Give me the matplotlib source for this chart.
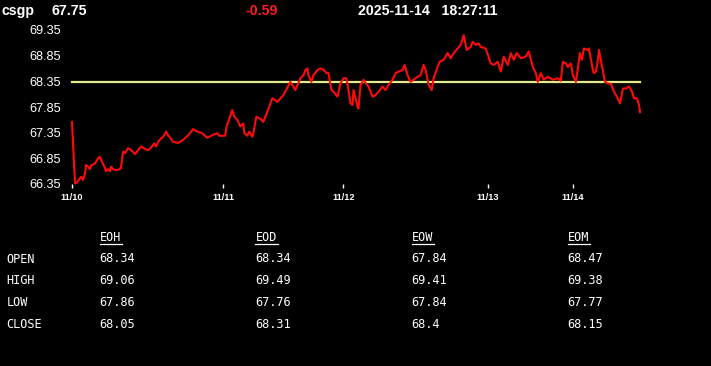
import matplotlib
matplotlib.use("Agg")
import matplotlib.pyplot as plt
from matplotlib.lines import Line2D

# ---------------- data ----------------
symbol = "csgp"
last_price = "67.75"
change = "-0.59"
timestamp = "2025-11-14   18:27:11"
prev_close = 68.34

bar_index = [0, 3, 5, 8, 9, 11, 13, 14, 16, 18, 19, 23, 26, 28, 29, 33, 34, 36, 38, 39,
             41, 44, 48, 49, 51, 53, 56, 59, 63, 66, 69, 73, 76, 79, 82, 84, 86, 89, 91, 94,
             96, 101, 106, 111, 116, 121, 125, 130, 135, 140, 145, 147, 153, 154, 156, 160, 162, 165, 168, 171,
             172, 175, 177, 180, 181, 184, 188, 191, 195, 200, 205, 211, 218, 223, 228, 231, 233, 235, 236, 239,
             241, 245, 248, 251, 254, 256, 259, 261, 265, 268, 271, 274, 276, 278, 280, 281, 285, 286, 288, 291,
             293, 296, 300, 303, 306, 310, 313, 316, 320, 323, 326, 330, 332, 335, 338, 341, 345, 348, 351, 353,
             356, 359, 361, 365, 367, 371, 375, 378, 381, 385, 388, 391, 394, 398, 400, 403, 406, 408, 413, 418,
             421, 425, 428, 431, 435, 438, 441, 444, 448, 453, 456, 460, 463, 465, 468, 471, 475, 480, 485, 488,
             490, 493, 495, 498, 500, 503, 505, 507, 509, 511, 515, 516, 520, 521, 523, 525, 526, 530, 532, 535,
             538, 541, 544, 547, 550, 553, 556, 559, 561, 564, 566, 567]
prices = [67.56, 66.36, 66.38, 66.46, 66.49, 66.43, 66.56, 66.72, 66.69, 66.64, 66.71, 66.75, 66.85, 66.88, 66.82, 66.66, 66.60, 66.64, 66.60, 66.69,
          66.64, 66.62, 66.64, 66.69, 66.98, 66.95, 67.05, 67.01, 66.93, 67.01, 67.08, 67.03, 67.01, 67.06, 67.14, 67.08, 67.17, 67.24, 67.27, 67.37,
          67.30, 67.17, 67.15, 67.21, 67.30, 67.42, 67.37, 67.34, 67.25, 67.30, 67.34, 67.29, 67.29, 67.44, 67.56, 67.79, 67.66, 67.60, 67.47, 67.53,
          67.34, 67.29, 67.37, 67.27, 67.34, 67.66, 67.62, 67.56, 67.76, 68.02, 67.95, 68.08, 68.34, 68.18, 68.41, 68.47, 68.57, 68.60, 68.47, 68.34,
          68.47, 68.57, 68.60, 68.58, 68.51, 68.51, 68.18, 68.15, 68.05, 68.31, 68.41, 68.41, 68.18, 67.92, 67.89, 68.18, 67.86, 67.82, 68.28, 68.38,
          68.32, 68.25, 68.05, 68.08, 68.15, 68.25, 68.18, 68.28, 68.38, 68.51, 68.54, 68.57, 68.67, 68.47, 68.34, 68.38, 68.44, 68.47, 68.67, 68.57,
          68.28, 68.18, 68.41, 68.63, 68.73, 68.77, 68.90, 68.80, 68.90, 68.99, 69.06, 69.25, 68.96, 69.02, 69.12, 69.06, 69.09, 69.02, 68.99, 68.70,
          68.67, 68.73, 68.54, 68.83, 68.67, 68.90, 68.77, 68.90, 68.80, 68.83, 68.93, 68.63, 68.51, 68.34, 68.51, 68.38, 68.44, 68.38, 68.41, 68.36,
          68.73, 68.70, 68.63, 68.70, 68.47, 68.34, 68.60, 68.90, 68.77, 68.99, 68.96, 68.99, 68.57, 68.51, 68.54, 68.77, 68.96, 68.54, 68.34, 68.31,
          68.30, 68.15, 68.05, 67.92, 68.21, 68.21, 68.25, 68.15, 68.02, 68.02, 67.89, 67.75]

y_ticks = [66.35, 66.85, 67.35, 67.85, 68.35, 68.85, 69.35]
y_tick_labels = ["66.35", "66.85", "67.35", "67.85", "68.35", "68.85", "69.35"]
day_start_index = [0, 151, 271, 415, 500]
day_labels = ["11/10", "11/11", "11/12", "11/13", "11/14"]

table_columns = ["EOH", "EOD", "EOW", "EOM"]
table_rows = ["OPEN", "HIGH", "LOW", "CLOSE"]
table_values = [
    ["68.34", "68.34", "67.84", "68.47"],
    ["69.06", "69.49", "69.41", "69.38"],
    ["67.86", "67.76", "67.84", "67.77"],
    ["68.05", "68.31", "68.4", "68.15"],
]

# ---------------- figure ----------------
W, H = 711, 366
fig = plt.figure(figsize=(W / 100, H / 100), dpi=100, facecolor="black")


def fx(x):
    return x / W


def fy(y):
    return 1 - y / H


ax_left, ax_right, ax_top, ax_bottom = 72, 640, 30, 184
ax = fig.add_axes([fx(ax_left), fy(ax_bottom), (ax_right - ax_left) / W, (ax_bottom - ax_top) / H])
ax.set_facecolor("black")
for s in ax.spines.values():
    s.set_visible(False)

ax.plot(bar_index, prices, color="#ff0a0a", lw=1.5, clip_on=False, solid_joinstyle="round", zorder=3)
ax.plot([bar_index[0], bar_index[-1]], [prev_close, prev_close], color="#e2ea8c", lw=1.6,
        clip_on=False, zorder=2)

ax.set_xlim(0, 567)
ax.set_ylim(66.35, 69.35)
ax.set_yticks(y_ticks)
ax.set_yticklabels(y_tick_labels, fontfamily="Liberation Sans", fontsize=9.2, color="white")
ax.tick_params(axis="y", length=0, pad=7.8)
ax.set_xticks(day_start_index)
ax.set_xticklabels(day_labels, fontfamily="Liberation Sans", fontsize=6.6, fontweight="bold", color="white")
ax.tick_params(axis="x", length=3, width=1, color="white", pad=3.2, direction="out")

# ---------------- header ----------------
hdr = dict(fontfamily="Liberation Sans", fontsize=10.2, fontweight="bold", va="baseline", ha="left")
fig.text(fx(2), fy(15), symbol, color="white", **hdr)
fig.text(fx(52), fy(15), last_price, color="white", **hdr)
fig.text(fx(246), fy(15), change, color="#ff1a1a", **hdr)
fig.text(fx(358), fy(15), timestamp, color="white", **hdr)

# ---------------- table ----------------
mono = dict(fontfamily="DejaVu Sans Mono", fontsize=8.6, color="white", va="center", ha="left")
col_x = [99, 255, 411, 567]
row_label_y = [259.5, 280.7, 302, 324]
row_value_y = [258, 280, 302, 324]
header_y = 237.5

for cx, name in zip(col_x, table_columns):
    fig.text(fx(cx + 0.5), fy(header_y), name, **mono)
    fig.add_artist(Line2D([fx(cx + 0.5), fx(cx + 23)], [fy(243.5), fy(243.5)],
                          color="white", lw=0.9, transform=fig.transFigure))

for ry, name in zip(row_label_y, table_rows):
    fig.text(fx(6.5), fy(ry), name, **mono)

for ry, row in zip(row_value_y, table_values):
    for cx, val in zip(col_x, row):
        fig.text(fx(cx), fy(ry), val, **mono)

fig.savefig("out.png", dpi=100, facecolor="black")
